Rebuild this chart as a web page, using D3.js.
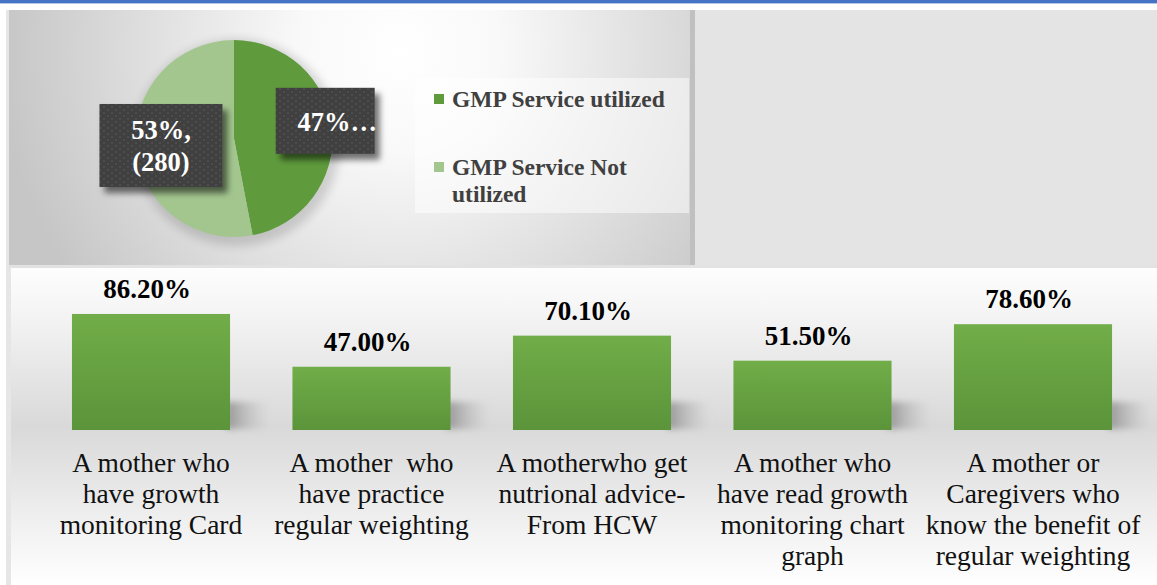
<!DOCTYPE html>
<html>
<head>
<meta charset="utf-8">
<script src="https://cdn.jsdelivr.net/npm/d3@7"></script>
<style>
  body { margin: 0; background: #fff; }
  svg { display: block; }
</style>
</head>
<body>
<div id="chart"></div>
<script>
(() => {
  // Pie data
  const pieLabels = ['GMP Service utilized', 'GMP Service Not utilized']
  const pieCounts = [248, 280]
  const pieTexts = [['47%\u2026'], ['53%,', '(280)']]

  // Bar data
  const barCategories = [
    'A mother who\nhave growth\nmonitoring Card',
    'A mother  who\nhave practice\nregular weighting',
    'A motherwho get\nnutrional advice-\nFrom HCW',
    'A mother who\nhave read growth\nmonitoring chart\ngraph',
    'A mother or\nCaregivers who\nknow the benefit of\nregular weighting'
  ]
  const barValues = [86.2, 47.0, 70.1, 51.5, 78.6]

  const width = 1157
  const height = 585
  const serif = '"Liberation Serif", "Times New Roman", serif'
  const pieColors = ['#5f9b3c', '#a3c68f']

  const svg = d3.select('#chart')
    .append('svg')
    .attr('width', width)
    .attr('height', height)

  const defs = svg.append('defs')

  // Top-left panel background
  const rg = defs.append('radialGradient')
    .attr('id', 'topGrad')
    .attr('gradientUnits', 'userSpaceOnUse')
    .attr('cx', 400).attr('cy', 50).attr('r', 400)
  rg.append('stop').attr('offset', 0).attr('stop-color', '#ffffff')
  rg.append('stop').attr('offset', 0.25).attr('stop-color', '#f9f9f9')
  rg.append('stop').attr('offset', 1).attr('stop-color', '#c6c6c6')

  // Bottom panel background
  const bg = defs.append('linearGradient')
    .attr('id', 'botGrad')
    .attr('x1', 0).attr('x2', 0).attr('y1', 0).attr('y2', 1)
  bg.append('stop').attr('offset', 0).attr('stop-color', '#fdfdfd')
  bg.append('stop').attr('offset', 0.12).attr('stop-color', '#f6f6f6')
  bg.append('stop').attr('offset', 0.5).attr('stop-color', '#d9d9d9')
  bg.append('stop').attr('offset', 1).attr('stop-color', '#ffffff')

  // Bar fill
  const barGrad = defs.append('linearGradient')
    .attr('id', 'barGrad')
    .attr('x1', 0).attr('x2', 0).attr('y1', 0).attr('y2', 1)
  barGrad.append('stop').attr('offset', 0).attr('stop-color', '#71ad48')
  barGrad.append('stop').attr('offset', 1).attr('stop-color', '#5b943a')

  // Bar shadow fill, fading to the right
  const shGrad = defs.append('linearGradient')
    .attr('id', 'shGrad')
    .attr('x1', 0).attr('x2', 1).attr('y1', 0).attr('y2', 0)
  shGrad.append('stop').attr('offset', 0).attr('stop-color', '#8c8c8c').attr('stop-opacity', 0.9)
  shGrad.append('stop').attr('offset', 1).attr('stop-color', '#bdbdbd').attr('stop-opacity', 0)

  // Dotted pattern for the pie label boxes
  const pat = defs.append('pattern')
    .attr('id', 'dots')
    .attr('patternUnits', 'userSpaceOnUse')
    .attr('width', 8).attr('height', 6)
  pat.append('rect').attr('width', 8).attr('height', 6).attr('fill', '#3f3f3f')
  pat.append('rect').attr('x', 1).attr('y', 1).attr('width', 2).attr('height', 1).attr('fill', '#5c5c5c')
  pat.append('rect').attr('x', 5).attr('y', 4).attr('width', 2).attr('height', 1).attr('fill', '#5c5c5c')

  defs.append('filter').attr('id', 'blur')
    .attr('x', '-50%').attr('y', '-50%').attr('width', '200%').attr('height', '200%')
    .append('feGaussianBlur').attr('stdDeviation', 5)

  defs.append('filter').attr('id', 'softBlur')
    .attr('x', '-50%').attr('y', '-50%').attr('width', '200%').attr('height', '200%')
    .append('feGaussianBlur').attr('stdDeviation', 3)

  defs.append('filter').attr('id', 'boxShadow')
    .attr('x', '-20%').attr('y', '-20%').attr('width', '150%').attr('height', '150%')
    .append('feDropShadow')
    .attr('dx', 5).attr('dy', 6).attr('stdDeviation', 3)
    .attr('flood-color', '#000').attr('flood-opacity', 0.55)

  //=======================================================
  // Frame

  svg.append('rect').attr('width', width).attr('height', 3).attr('fill', '#4472c4')
  svg.append('rect').attr('y', 3).attr('width', width).attr('height', 1).attr('fill', '#b4c7e7')
  svg.append('rect').attr('x', 6).attr('y', 10).attr('width', 5).attr('height', height - 10).attr('fill', '#e6e6e6')
  svg.append('rect').attr('x', 9).attr('y', 10).attr('width', 681).attr('height', 255).attr('fill', 'url(#topGrad)')
  svg.append('rect').attr('x', 690).attr('y', 10).attr('width', width - 690).attr('height', 255).attr('fill', '#e4e4e4')
  svg.append('rect').attr('x', 690).attr('y', 10).attr('width', 5).attr('height', 255).attr('fill', '#c0c0c0')
  svg.append('rect').attr('x', 9).attr('y', 265).attr('width', width - 9).attr('height', 3).attr('fill', '#e2e2e2')
  svg.append('rect').attr('x', 11).attr('y', 268).attr('width', width - 11).attr('height', height - 268).attr('fill', 'url(#botGrad)')

  //=======================================================
  // Pie

  const cx = 234
  const cy = 138.5
  const radius = 98.5

  const pie = d3.pie().sort(null).value(d => d)
  const arcs = pie(pieCounts)
  const arc = d3.arc().innerRadius(0).outerRadius(radius)

  const pg = svg.append('g').attr('transform', `translate(${cx}, ${cy})`)

  pg.append('circle')
    .attr('cx', 3).attr('cy', 4)
    .attr('r', radius + 5)
    .attr('fill', '#000')
    .attr('opacity', 0.14)
    .attr('filter', 'url(#blur)')

  pg.selectAll('path.slice')
    .data(arcs)
    .join('path')
    .attr('class', 'slice')
    .attr('fill', (d, i) => pieColors[i])
    .attr('d', arc)

  // Data label boxes
  const labelRadius = [0.93, 0.745]
  const boxSize = [[99, 66], [123, 83]]
  const boxNudge = [[0, -9], [0, 0]]
  const textShift = [12, 0]

  arcs.forEach((d, i) => {
    const c = d3.arc().innerRadius(radius * labelRadius[i]).outerRadius(radius * labelRadius[i]).centroid(d)
    const bx = c[0] + boxNudge[i][0]
    const by = c[1] + boxNudge[i][1]
    const [bw, bh] = boxSize[i]

    pg.append('rect')
      .attr('x', bx - bw / 2)
      .attr('y', by - bh / 2)
      .attr('width', bw)
      .attr('height', bh)
      .attr('fill', 'url(#dots)')
      .attr('filter', 'url(#boxShadow)')

    const lines = pieTexts[i]
    pg.append('text')
      .attr('font-family', serif)
      .attr('font-weight', 'bold')
      .attr('font-size', 26.5)
      .attr('fill', '#fff')
      .attr('text-anchor', 'middle')
      .selectAll('tspan')
      .data(lines)
      .join('tspan')
      .attr('x', bx + textShift[i])
      .attr('y', (l, j) => by + (j - (lines.length - 1) / 2) * 32 + 10)
      .text(l => l)
  })

  // Legend
  const lg = svg.append('g')
  lg.append('rect')
    .attr('x', 415).attr('y', 78)
    .attr('width', 274).attr('height', 135)
    .attr('fill', '#fff')
    .attr('opacity', 0.5)

  const legendY = [99, 167]
  pieLabels.forEach((name, i) => {
    lg.append('rect')
      .attr('x', 434).attr('y', legendY[i] - 5)
      .attr('width', 10).attr('height', 10)
      .attr('fill', pieColors[i])

    const words = i === 1 ? ['GMP Service Not', 'utilized'] : [name]
    lg.append('text')
      .attr('font-family', serif)
      .attr('font-weight', 'bold')
      .attr('font-size', 23.5)
      .attr('fill', '#404040')
      .selectAll('tspan')
      .data(words)
      .join('tspan')
      .attr('x', 452)
      .attr('y', (w, j) => legendY[i] + 8 + j * 27)
      .text(w => w)
  })

  //=======================================================
  // Bars

  const x = d3.scaleBand()
    .domain(barCategories)
    .range([40.75, 1143.25])
    .paddingInner(0.283)
    .paddingOuter(0.1415)

  const y = d3.scaleLinear()
    .domain([0, 100])
    .range([430, 295.4])

  const bars = svg.append('g')

  // soft shadows behind the bars
  bars.selectAll('rect.shadow')
    .data(barValues)
    .join('rect')
    .attr('class', 'shadow')
    .attr('x', (d, i) => x(barCategories[i]) + x.bandwidth() - 4)
    .attr('y', y(0) - 28)
    .attr('width', 44)
    .attr('height', 27)
    .attr('fill', 'url(#shGrad)')
    .attr('filter', 'url(#softBlur)')

  bars.selectAll('rect.bar')
    .data(barValues)
    .join('rect')
    .attr('class', 'bar')
    .attr('x', (d, i) => x(barCategories[i]))
    .attr('y', d => y(d))
    .attr('width', x.bandwidth())
    .attr('height', d => y(0) - y(d))
    .attr('fill', 'url(#barGrad)')

  // value labels
  bars.selectAll('text.value')
    .data(barValues)
    .join('text')
    .attr('class', 'value')
    .attr('x', (d, i) => x(barCategories[i]) + x.bandwidth() / 2 - 4)
    .attr('y', d => y(d) - 16)
    .attr('text-anchor', 'middle')
    .attr('font-family', serif)
    .attr('font-weight', 'bold')
    .attr('font-size', 27)
    .attr('fill', '#000')
    .text(d => d3.format('.2f')(d) + '%')

  // category labels
  bars.selectAll('text.cat')
    .data(barCategories)
    .join('text')
    .attr('class', 'cat')
    .attr('text-anchor', 'middle')
    .attr('font-family', serif)
    .attr('font-size', 27.5)
    .attr('fill', '#111')
    .style('white-space', 'pre')
    .each(function (d) {
      d3.select(this).selectAll('tspan')
        .data(d.split('\n'))
        .join('tspan')
        .attr('x', x(d) + x.bandwidth() / 2)
        .attr('y', (l, j) => 472 + j * 31)
        .text(l => l)
    })
})()
</script>
</body>
</html>
